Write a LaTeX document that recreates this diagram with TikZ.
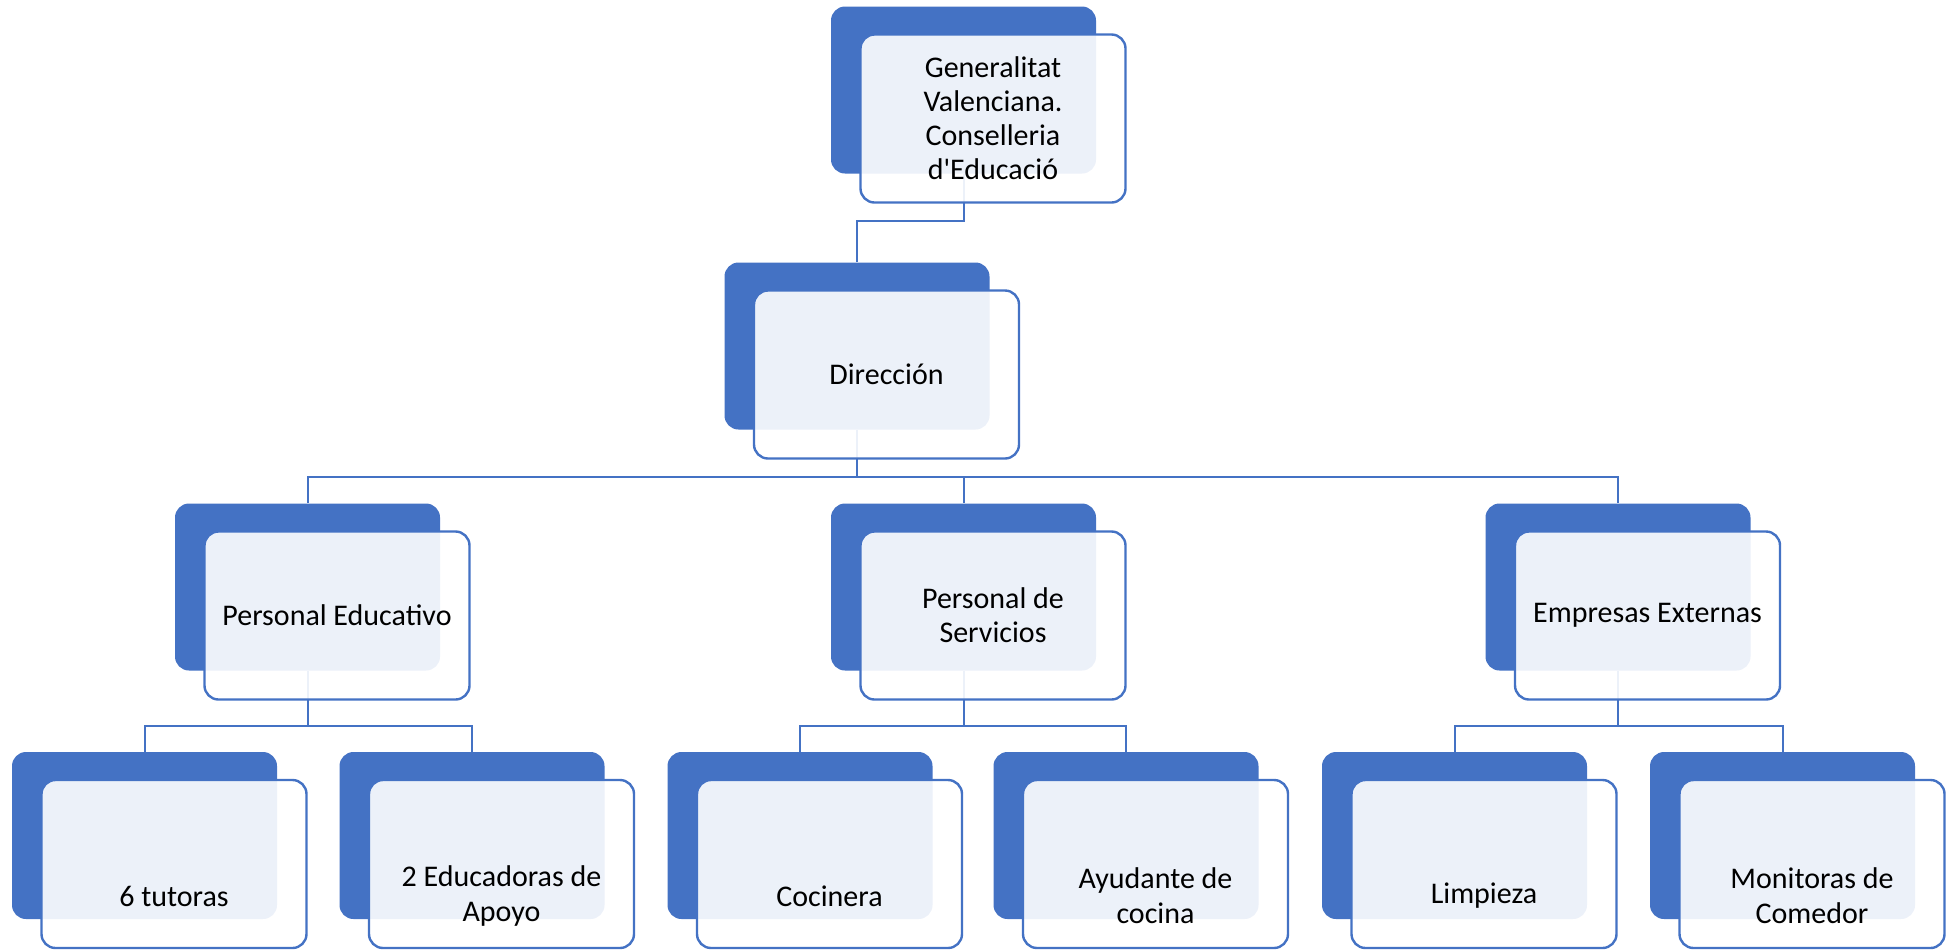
\documentclass[tikz,border=0pt]{standalone}
\usepackage{fontspec}
\setmainfont{Carlito}
\usetikzlibrary{positioning, backgrounds}
\definecolor{orgblue}{RGB}{68,114,196}

\tikzset{
	backbox/.style={fill=orgblue, rounded corners=7pt, minimum width=132.5pt, minimum height=83.5pt, inner sep=0pt},
	frontbox/.style={draw=orgblue, line width=1.2pt, fill=white, fill opacity=0.9, text opacity=1, rounded corners=7pt,
		minimum width=132.5pt, minimum height=84pt, inner sep=0pt, align=center,
		font=\fontsize{15pt}{17pt}\selectfont, xshift=14.75pt, yshift=-14.25pt},
	lowtext/.style={yshift=-16pt, align=center, text opacity=1, font=\fontsize{15pt}{17.5pt}\selectfont},
	conn/.style={draw=orgblue, line width=1pt}
}

\begin{document}
\begin{tikzpicture}[x=0.5pt, y=-0.5pt]
		\useasboundingbox (0,0) rectangle (1959,949);
		
		\node[backbox] (gv) at (963.5,90) {};
		\node[frontbox] (gvf) at (gv) {Generalitat\\Valenciana.\\Conselleria\\d\textquotesingle Educació};
		
		\node[backbox] (dir) at (857,346) {};
		\node[frontbox] (dirf) at (dir) {Dirección};
		
		\node[backbox] (pe) at (307.5,587) {};
		\node[frontbox] (pef) at (pe) {Personal Educativo};
		\node[backbox] (ps) at (963.5,587) {};
		\node[frontbox] (psf) at (ps) {Personal de\\Servicios};
		\node[backbox] (ee) at (1618,587) {};
		\node[frontbox] (eef) at (ee) {Empresas Externas};
		
		\node[backbox] (tut) at (144.5,835.5) {};
		\node[frontbox, label={[lowtext]center:6 tutoras}] (tutf) at (tut) {};
		\node[backbox] (edu) at (472,835.5) {};
		\node[frontbox, label={[lowtext]center:2 Educadoras de\\Apoyo}] (eduf) at (edu) {};
		\node[backbox] (coc) at (800,835.5) {};
		\node[frontbox, label={[lowtext]center:Cocinera}] (cocf) at (coc) {};
		\node[backbox] (ayu) at (1126,835.5) {};
		\node[frontbox, label={[lowtext]center:Ayudante de\\cocina}] (ayuf) at (ayu) {};
		\node[backbox] (lim) at (1454.5,835.5) {};
		\node[frontbox, label={[lowtext]center:Limpieza}] (limf) at (lim) {};
		\node[backbox] (mon) at (1782.5,835.5) {};
		\node[frontbox, label={[lowtext]center:Monitoras de\\Comedor}] (monf) at (mon) {};
		
		\begin{pgfonlayer}{background}
			\draw[conn] (gv.south) -- ++(0,47) -| (dir.north);
			\foreach \c in {pe, ps, ee}
				\draw[conn] (dir.south) -- ++(0,47) -| (\c.north);
			\foreach \p/\a/\b in {pe/tut/edu, ps/coc/ayu, ee/lim/mon}{
				\draw[conn] (\p.south) -- ++(0,55) -| (\a.north);
				\draw[conn] (\p.south) -- ++(0,55) -| (\b.north);
			}
		\end{pgfonlayer}
	\end{tikzpicture}
\end{document}
